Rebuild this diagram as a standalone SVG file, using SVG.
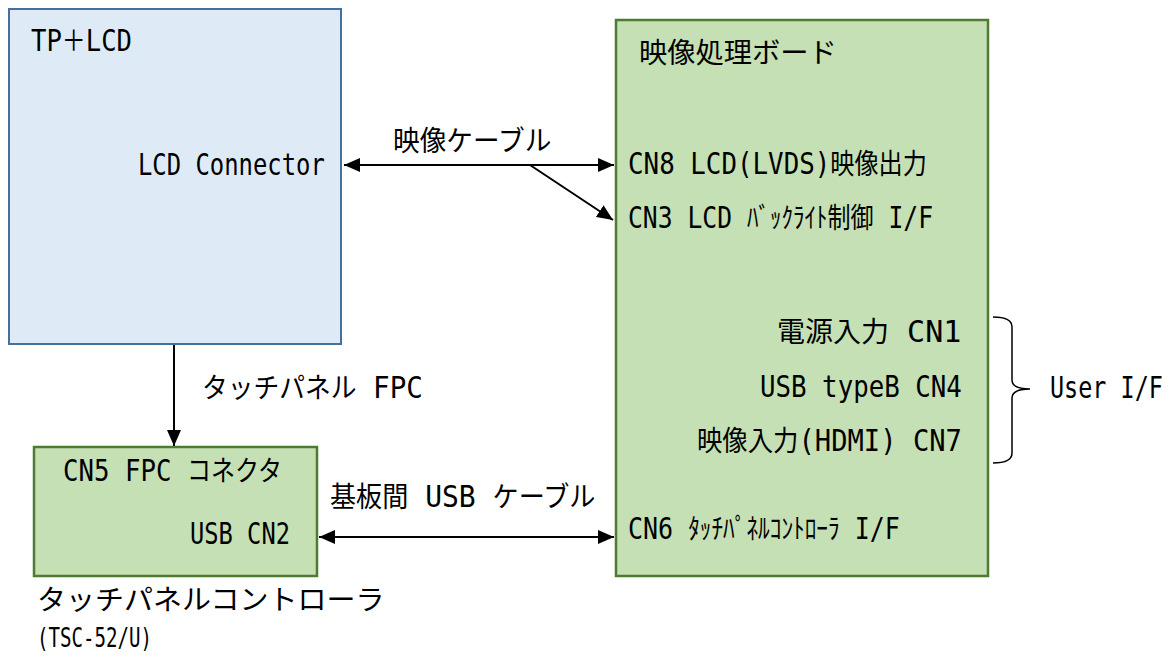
<svg xmlns="http://www.w3.org/2000/svg" width="1176" height="660" viewBox="0 0 1176 660">
<style>
text{font-family:"DejaVu Sans Mono","Noto Sans CJK JP",monospace;font-size:30px;fill:#000}
.j{font-size:28px}
.s{font-size:26px}
.blue{fill:#DEEBF7;stroke:#41719C;stroke-width:2}
.green{fill:#C5E0B4;stroke:#4E7A32;stroke-width:2.5}
.con{stroke:#000;stroke-width:2;fill:none}
</style>
<defs>
<marker id="ah" markerUnits="userSpaceOnUse" markerWidth="17" markerHeight="14" refX="16" refY="7" orient="auto-start-reverse">
<path d="M0,0 L16,7 L0,14 z" fill="#000"/>
</marker>
</defs>
<rect width="1176" height="660" fill="#fff"/>
<g id="tp-lcd">
<rect class="blue" x="9" y="9" width="332" height="335"/>
<text transform="translate(31,51) scale(0.854,1)">TP<tspan class="j">＋</tspan>LCD</text>
<text transform="translate(138,175) scale(0.796,1)">LCD Connector</text>
</g>
<g id="video-board">
<rect class="green" x="616" y="20" width="372" height="556"/>
<text class="j" transform="translate(639,63) scale(1.01,1)">映像処理ボード</text>
<text transform="translate(628,174) scale(0.862,1)">CN8 LCD(LVDS)<tspan class="j">映像出力</tspan></text>
<text transform="translate(628,228) scale(0.823,1)">CN3 LCD <tspan class="j">ﾊﾞｯｸﾗｲﾄ制御</tspan> I/F</text>
<text transform="translate(777,342)"><tspan class="j">電源入力</tspan> CN1</text>
<text transform="translate(760,397) scale(0.86,1)">USB typeB CN4</text>
<text transform="translate(697,451) scale(0.906,1)"><tspan class="j">映像入力</tspan>(HDMI) CN7</text>
<text transform="translate(628,539) scale(0.833,1)">CN6 <tspan class="j">ﾀｯﾁﾊﾟﾈﾙｺﾝﾄﾛｰﾗ</tspan> I/F</text>
</g>
<g id="user-if">
<path class="con" style="stroke-width:1.5" d="M993,317 Q1012,317 1012,327 L1012,380 Q1012,389 1030,389 Q1012,389 1012,398 L1012,453 Q1012,463 993,463"/>
<text transform="translate(1050,398) scale(0.782,1)">User I/F</text>
</g>
<g id="touch-controller">
<rect class="green" x="34" y="447" width="283" height="129"/>
<text transform="translate(63,481) scale(0.858,1)">CN5 FPC <tspan class="j">コネクタ</tspan></text>
<text transform="translate(190,544) scale(0.791,1)">USB CN2</text>
<text class="j" transform="translate(37,610) scale(1.036,1)">タッチパネルコントローラ</text>
<text class="s" transform="translate(37,647) scale(0.735,1)">(TSC-52/U)</text>
</g>
<g id="connectors">
<line class="con" x1="344" y1="165" x2="614" y2="165" marker-start="url(#ah)" marker-end="url(#ah)"/>
<line class="con" x1="530" y1="165" x2="613" y2="220" marker-end="url(#ah)"/>
<line class="con" x1="174" y1="345" x2="174" y2="446" marker-end="url(#ah)"/>
<line class="con" x1="319" y1="537" x2="614" y2="537" marker-start="url(#ah)" marker-end="url(#ah)"/>
<text class="j" transform="translate(393,151) scale(0.952,1)">映像ケーブル</text>
<text transform="translate(202,398) scale(0.92,1)"><tspan class="j">タッチパネル</tspan> FPC</text>
<text transform="translate(330,507) scale(0.933,1)"><tspan class="j">基板間</tspan> USB <tspan class="j">ケーブル</tspan></text>
</g>
</svg>
